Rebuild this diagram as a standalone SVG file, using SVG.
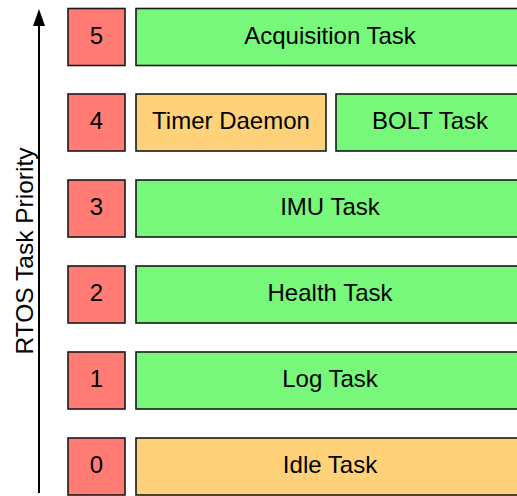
<svg xmlns="http://www.w3.org/2000/svg" width="517" height="496" viewBox="0 0 517 496">
<defs>
<style>
.b{stroke:#1a1a1a;stroke-width:1.6}
.r{fill:#FF7B74}
.g{fill:#78F87A}
.o{fill:#FFD279}
text{font-family:"Liberation Sans",Arial,sans-serif;font-size:24px;fill:#000;text-anchor:middle}
</style>
</defs>
<g id="connectors">
<line x1="39" y1="493" x2="39" y2="26" stroke="#000" stroke-width="2"/>
<path d="M33,26 L39,9 L45,26 Z" fill="#000"/>
</g>
<text id="axis-label" transform="translate(33,251) rotate(-90)" style="font-size:24.5px">RTOS Task Priority</text>
<g id="p5"><rect class="b r" x="68" y="8.5" width="57" height="57"/><text x="96.5" y="43.5">5</text></g>
<g id="acq"><rect class="b g" x="136" y="8.5" width="388" height="57"/><text x="330" y="43.5">Acquisition Task</text></g>
<g id="p4"><rect class="b r" x="68" y="94" width="57" height="57"/><text x="96.5" y="129">4</text></g>
<g id="timer"><rect class="b o" x="136" y="94" width="190" height="57"/><text x="231" y="129">Timer Daemon</text></g>
<g id="bolt"><rect class="b g" x="336" y="94" width="188" height="57"/><text x="430" y="129">BOLT Task</text></g>
<g id="p3"><rect class="b r" x="68" y="180" width="57" height="57"/><text x="96.5" y="215">3</text></g>
<g id="imu"><rect class="b g" x="136" y="180" width="388" height="57"/><text x="330" y="215">IMU Task</text></g>
<g id="p2"><rect class="b r" x="68" y="266" width="57" height="57"/><text x="96.5" y="301">2</text></g>
<g id="health"><rect class="b g" x="136" y="266" width="388" height="57"/><text x="330" y="301">Health Task</text></g>
<g id="p1"><rect class="b r" x="68" y="352" width="57" height="57"/><text x="96.5" y="387">1</text></g>
<g id="log"><rect class="b g" x="136" y="352" width="388" height="57"/><text x="330" y="387">Log Task</text></g>
<g id="p0"><rect class="b r" x="68" y="438" width="57" height="57"/><text x="96.5" y="473">0</text></g>
<g id="idle"><rect class="b o" x="136" y="438" width="388" height="57"/><text x="330" y="473">Idle Task</text></g>
</svg>
